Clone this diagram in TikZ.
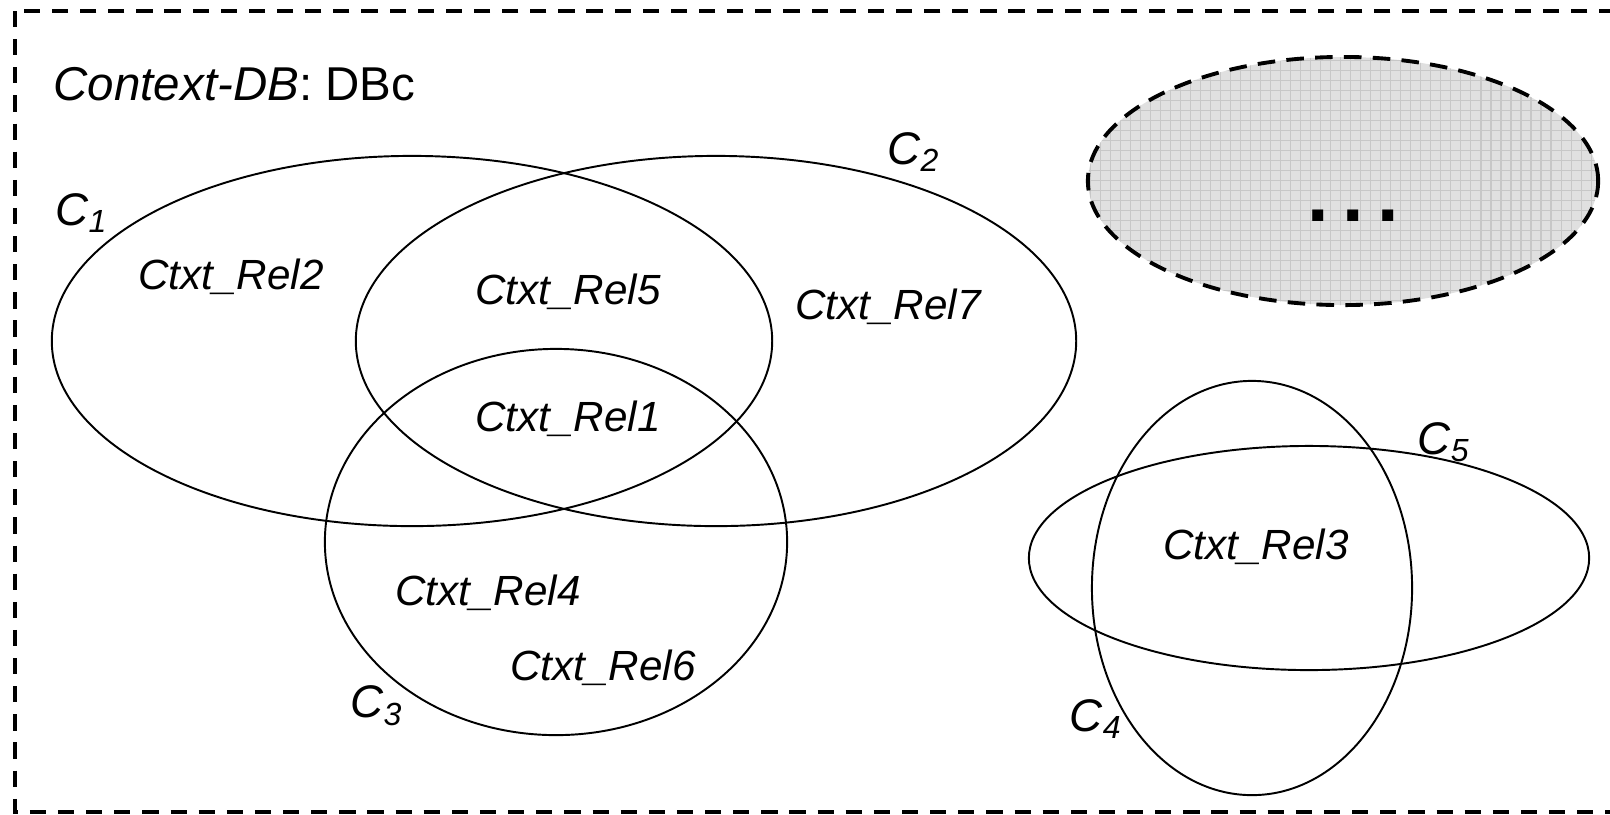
\documentclass[tikz,border=0pt]{standalone}
\usepackage{fontspec}
\setmainfont{Liberation Sans}
\usetikzlibrary{shapes.geometric,positioning}

\begin{document}
\begin{tikzpicture}[
  x=0.01cm, y=-0.01cm,
  set/.style={draw, ellipse, inner sep=0pt, line width=0.55pt},
  rel/.style={inner sep=0pt, font=\fontsize{12}{14}\selectfont\itshape},
  ctx/.style={inner sep=0pt, font=\fontsize{13}{15}\selectfont\itshape},
  frame/.style={line width=0.95pt, dash pattern=on 4.6pt off 3.4pt},
]
\useasboundingbox (0,0) rectangle (1610,814);
\draw[frame] (15,11) rectangle (1660,812);
\node[anchor=west, inner sep=0pt, font=\fontsize{13.5}{16}\selectfont] (title) at (53,84) {\textit{Context-DB}: DBc};

% contexts
\node[set, minimum width=7.2cm, minimum height=3.7cm] (c1) at (412,341) {};
\node[set, minimum width=7.2cm, minimum height=3.7cm] (c2) at (716,341) {};
\node[set, minimum width=4.62cm, minimum height=3.86cm] (c3) at (556,542) {};
\node[set, minimum width=3.2cm, minimum height=4.14cm] (c4) at (1252,588) {};
\node[set, minimum width=5.6cm, minimum height=2.24cm] (c5) at (1309,558) {};

% other contexts
\begin{scope}
  \clip (1343,181) ellipse [x radius=255, y radius=124];
  \fill[black!12] (1080,50) rectangle (1610,310);
  \draw[black!22, line width=0.3pt, step=0.1cm] (1080,50) grid (1610,310);
\end{scope}
\node[ellipse, inner sep=0pt, minimum width=5.1cm, minimum height=2.48cm, line width=1.1pt,
  draw, dash pattern=on 5pt off 3.2pt] (more) at (1343,181) {};
\node[inner sep=0pt, font=\fontsize{22}{26}\selectfont\bfseries] (dots) at (1353,216) {.\hspace{0.135cm}.\hspace{0.135cm}.};

\node[ctx] (l1) at (82,213) {C\textsubscript{1}};
\node[ctx] (l2) at (914,152) {C\textsubscript{2}};
\node[ctx] (l3) at (377,706) {C\textsubscript{3}};
\node[ctx] (l4) at (1096,719) {C\textsubscript{4}};
\node[ctx] (l5) at (1444,442) {C\textsubscript{5}};

\node[rel] (r2) at (231,277) {Ctxt\_Rel2};
\node[rel] (r5) at (568,292) {Ctxt\_Rel5};
\node[rel] (r7) at (888,307) {Ctxt\_Rel7};
\node[rel] (r1) at (568,419) {Ctxt\_Rel1};
\node[rel] (r4) at (488,593) {Ctxt\_Rel4};
\node[rel] (r6) at (603,668) {Ctxt\_Rel6};
\node[rel] (r3) at (1256,547) {Ctxt\_Rel3};
\end{tikzpicture}
\end{document}
